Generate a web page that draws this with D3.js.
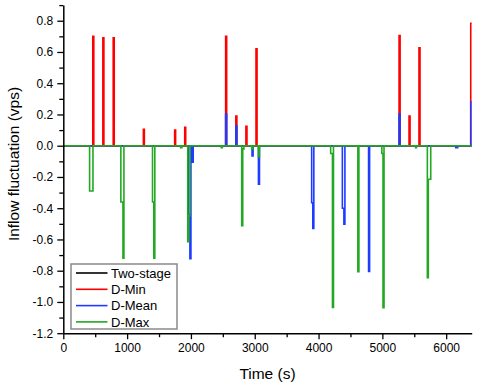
<!DOCTYPE html>
<html>
<head>
<meta charset="utf-8">
<script src="https://cdn.jsdelivr.net/npm/d3@7"></script>
<style>
  body { margin: 0; background: #fff; }
  text { font-family: "Liberation Sans", Arial, sans-serif; }
</style>
</head>
<body>
<script>
// step points [time (s), value (vps)]
var twoStage = [[0, 0], [6400, 0]];

var dMin = [[0, 0],
    [462, 0.70], [478, 0], [620, 0.69], [636, 0], [782, 0.69], [798, 0],
    [1255, 0.105], [1270, 0], [1745, 0.10], [1760, 0], [1903, 0.118], [1918, 0],
    [2544, 0.70], [2560, 0], [2704, 0.19], [2720, 0], [2862, 0.125], [2878, 0],
    [3020, 0.62], [3036, 0], [5262, 0.705], [5278, 0], [5418, 0.19], [5434, 0],
    [5574, 0.627], [5590, 0], [6385, 0.783], [6400, 0.783]];

var dMean = [[0, 0],
    [1960, -0.44], [1984, -0.723], [2000, 0], [2022, -0.106], [2036, 0],
    [2544, 0.203], [2560, 0], [2704, 0.128], [2720, 0],
    [2958, -0.065], [2974, 0], [3058, -0.247], [3074, 0],
    [3892, -0.365], [3910, -0.53], [3926, 0],
    [4373, -0.40], [4397, -0.503], [4413, 0],
    [4784, -0.805], [4800, 0], [5262, 0.203], [5278, 0],
    [6150, -0.012], [6180, 0], [6385, 0.28], [6400, 0.28]];

var dMax = [[0, 0],
    [412, -0.29], [465, 0],
    [902, -0.36], [935, -0.72], [950, 0],
    [1398, -0.36], [1418, -0.72], [1434, 0],
    [1838, -0.012], [1858, 0],
    [1950, -0.614], [1966, -0.45], [1985, 0],
    [2475, -0.012], [2492, 0],
    [2796, -0.512], [2812, -0.02], [2830, 0],
    [2952, -0.02], [2970, 0], [3058, -0.07], [3074, 0],
    [4190, -0.05], [4218, -1.035], [4234, 0],
    [4616, -0.806], [4632, 0],
    [4992, -0.05], [5010, -1.037], [5026, 0],
    [5520, -0.012], [5535, 0],
    [5705, -0.845], [5720, -0.215], [5758, 0],
    [6400, 0]];

var seriesNames = ["Two-stage", "D-Min", "D-Mean", "D-Max"];
var seriesColors = ["#000000", "#ff0000", "#1e3cff", "#22a822"];
var seriesData = [twoStage, dMin, dMean, dMax];

var xMajor = [0, 1000, 2000, 3000, 4000, 5000, 6000];
var xMinor = [500, 1500, 2500, 3500, 4500, 5500];
var yMajor = [-1.2, -1.0, -0.8, -0.6, -0.4, -0.2, 0.0, 0.2, 0.4, 0.6, 0.8];
var yMinor = [-1.1, -0.9, -0.7, -0.5, -0.3, -0.1, 0.1, 0.3, 0.5, 0.7, 0.9];

var width = 485;
var height = 391;

var svg = d3.select("body")
    .append("svg")
    .attr("width", width)
    .attr("height", height);

var x = d3.scaleLinear().domain([0, 6400]).range([63.3, 471.7]);
var y = d3.scaleLinear().domain([-1.2, 0.9]).range([333.2, 5.1]);

// data lines
var line = d3.line()
    .x(function(d) { return x(d[0]); })
    .y(function(d) { return y(d[1]); })
    .curve(d3.curveStepAfter);

svg.append("g").selectAll("path")
    .data(seriesData)
    .enter()
    .append("path")
    .attr("d", line)
    .attr("fill", "none")
    .attr("stroke", function(d, i) { return seriesColors[i]; })
    .attr("stroke-width", 1.6);

// axes
var fmtY = function(d) { return d3.format(".1f")(d).replace("−", "-"); };

var yAxis = svg.append("g")
    .attr("transform", "translate(" + x(0) + ",0)")
    .call(d3.axisLeft(y).tickValues(yMajor).tickFormat(fmtY).tickSize(6).tickSizeOuter(0).tickPadding(4));
svg.append("g")
    .attr("transform", "translate(" + x(0) + ",0)")
    .call(d3.axisLeft(y).tickValues(yMinor).tickFormat("").tickSize(4).tickSizeOuter(0))
    .select(".domain").remove();

var xAxis = svg.append("g")
    .attr("transform", "translate(0," + y(-1.2) + ")")
    .call(d3.axisBottom(x).tickValues(xMajor).tickFormat(d3.format("d")).tickSize(6).tickSizeOuter(0).tickPadding(4));
svg.append("g")
    .attr("transform", "translate(0," + y(-1.2) + ")")
    .call(d3.axisBottom(x).tickValues(xMinor).tickFormat("").tickSize(4).tickSizeOuter(0))
    .select(".domain").remove();

svg.selectAll(".domain").attr("stroke-width", 1.5);
svg.selectAll(".tick line").attr("stroke-width", 1.3);
svg.selectAll(".tick text")
    .style("font-size", "12px")
    .attr("fill", "#000");

// axis titles
svg.append("text")
    .attr("x", 267.5)
    .attr("y", 379)
    .attr("text-anchor", "middle")
    .style("font-size", "15.5px")
    .text("Time (s)");

svg.append("text")
    .attr("transform", "translate(19,164) rotate(-90)")
    .attr("text-anchor", "middle")
    .style("font-size", "15.5px")
    .text("Inflow fluctuation (vps)");

// legend
var legend = svg.append("g");
legend.append("rect")
    .attr("x", 71)
    .attr("y", 264)
    .attr("width", 106)
    .attr("height", 65)
    .attr("fill", "#fff")
    .attr("stroke", "#8a8a8a")
    .attr("stroke-width", 1.5);

var rows = legend.selectAll(".row")
    .data(seriesNames)
    .enter()
    .append("g")
    .attr("transform", function(d, i) { return "translate(0," + (273 + i * 16.3) + ")"; });

rows.append("line")
    .attr("x1", 76)
    .attr("x2", 107.5)
    .attr("stroke", function(d, i) { return seriesColors[i]; })
    .attr("stroke-width", 1.6);

rows.append("text")
    .attr("x", 111)
    .attr("dy", "0.36em")
    .style("font-size", "13px")
    .text(function(d) { return d; });
</script>
</body>
</html>
